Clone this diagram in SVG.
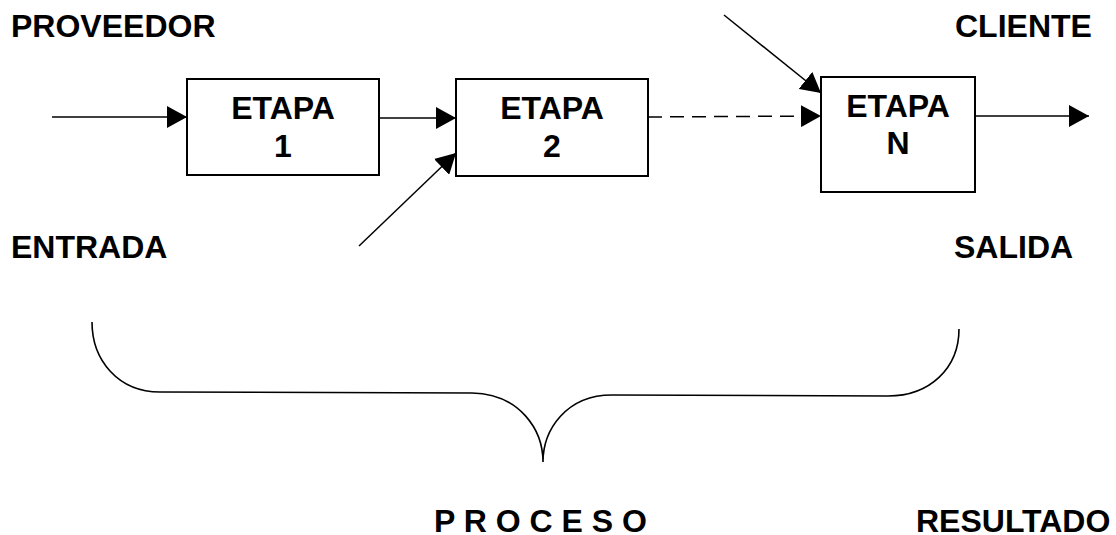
<svg xmlns="http://www.w3.org/2000/svg" width="1116" height="535" viewBox="0 0 1116 535">
  <style>
    .lbl { font-family: "Liberation Sans", Arial, sans-serif; font-weight: bold; font-size: 32px; fill: #000; }
    .box { fill: #fff; stroke: #000; stroke-width: 2; }
    .ctr { text-anchor: middle; }
    .edge { fill: none; stroke: #000; stroke-width: 1.5; }
    .dash { stroke-dasharray: 14 8; }
    .brace { fill: none; stroke: #000; stroke-width: 1.6; }
  </style>
  <defs>
    <marker id="arrow" viewBox="0 0 20 22" refX="20" refY="11" markerWidth="20" markerHeight="22" markerUnits="userSpaceOnUse" orient="auto">
      <path d="M0,0 L20,11 L0,22 z" fill="#000"/>
    </marker>
  </defs>
  <rect width="1116" height="535" fill="#fff"/>

  <!-- side labels -->
  <g id="labels">
    <text class="lbl" x="11" y="37">PROVEEDOR</text>
    <text class="lbl" x="955" y="37">CLIENTE</text>
    <text class="lbl" x="11" y="258">ENTRADA</text>
    <text class="lbl" x="954" y="258">SALIDA</text>
    <text class="lbl" x="434" y="532">P R O C E S O</text>
    <text class="lbl" x="916" y="532">RESULTADO</text>
  </g>

  <!-- connectors -->
  <g id="connectors">
    <line class="edge" x1="52" y1="117" x2="187" y2="117" marker-end="url(#arrow)"/>
    <line class="edge" x1="379" y1="118" x2="456" y2="118" marker-end="url(#arrow)"/>
    <line class="edge" x1="359" y1="246" x2="456" y2="153" marker-end="url(#arrow)"/>
    <line class="edge dash" x1="648" y1="117" x2="821" y2="116" marker-end="url(#arrow)"/>
    <line class="edge" x1="724" y1="15" x2="821" y2="93" marker-end="url(#arrow)"/>
    <line class="edge" x1="975" y1="116" x2="1089" y2="116" marker-end="url(#arrow)"/>
  </g>

  <!-- stages -->
  <g id="etapa1">
    <rect class="box" x="187" y="79" width="192" height="96"/>
    <text class="lbl ctr" x="283" y="119">ETAPA</text>
    <text class="lbl ctr" x="283" y="157">1</text>
  </g>
  <g id="etapa2">
    <rect class="box" x="456" y="79" width="192" height="97"/>
    <text class="lbl ctr" x="552" y="119">ETAPA</text>
    <text class="lbl ctr" x="552" y="157">2</text>
  </g>
  <g id="etapaN">
    <rect class="box" x="821" y="77" width="154" height="115"/>
    <text class="lbl ctr" x="898" y="117">ETAPA</text>
    <text class="lbl ctr" x="898" y="154">N</text>
  </g>

  <!-- curly brace spanning the process -->
  <g id="brace">
    <path class="brace" d="M92,322 C92,360 118,392 160,392 L472,393 C520,394 543,430 543,462 C543,430 566,395 612,395 L888,396 C930,396 959,368 959,329"/>
  </g>
</svg>
